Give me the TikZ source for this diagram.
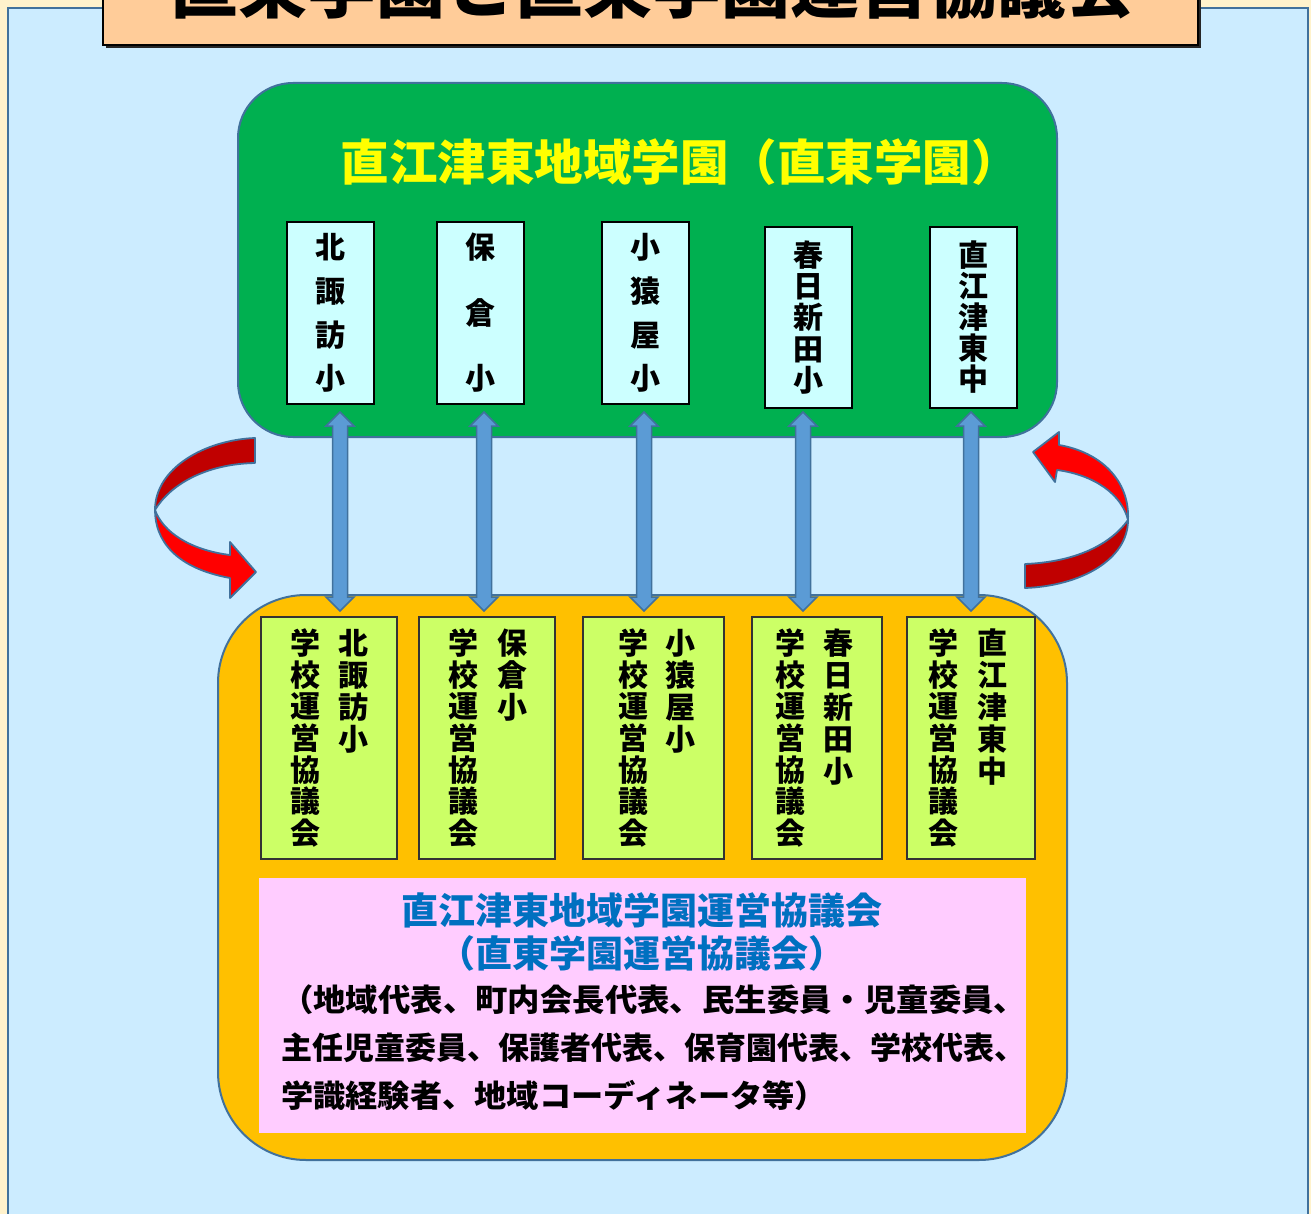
\documentclass[tikz,border=0pt]{standalone}
\usepackage{fontspec}
\setmainfont{Noto Sans CJK JP}
\usetikzlibrary{calc}
\definecolor{cream}{HTML}{FFF2CC}
\definecolor{skyb}{HTML}{CCECFF}
\definecolor{edgeb}{HTML}{41719C}
\definecolor{peach}{HTML}{FFCC99}
\definecolor{grn}{HTML}{00B050}
\definecolor{cyanbox}{HTML}{CCFFFF}
\definecolor{ylw}{HTML}{FFFF00}
\definecolor{orng}{HTML}{FFC000}
\definecolor{lime}{HTML}{CCFF66}
\definecolor{pinkb}{HTML}{FFCCFF}
\definecolor{blu}{HTML}{0070C0}
\definecolor{dred}{HTML}{C00000}
\definecolor{bred}{HTML}{FF0000}
\definecolor{arrb}{HTML}{5B9BD5}
\newcommand\fatarrow[2]{\draw[fatarrow] ($(#1)+(-7.5,14)$) -- ($(#1)+(-14,14)$) -- (#1) -- ($(#1)+(14,14)$) -- ($(#1)+(7.5,14)$) -- ($(#2)+(7.5,-14)$) -- ($(#2)+(14,-14)$) -- (#2) -- ($(#2)+(-14,-14)$) -- ($(#2)+(-7.5,-14)$) -- cycle;}
\begin{document}
\begin{tikzpicture}[x=1pt,y=-1pt,
  schbox/.style={draw=black, line width=1.2pt, fill=cyanbox, inner sep=0pt, align=center, font=\bfseries\fontsize{30}{#1}\selectfont},
  limebox/.style={draw=black!80, line width=1.4pt, fill=lime, inner sep=0pt},
  vcol/.style={inner sep=0pt, align=center, font=\bfseries\fontsize{30}{#1}\selectfont},
  fatarrow/.style={fill=arrb, draw=edgeb, line width=1.5pt, line join=miter},
  redarrow/.style={draw=edgeb, line width=1.8pt, line join=round},
  bigbox/.style={draw=edgeb, line width=2pt},
  pinkline/.style={inner sep=0pt, anchor=west, font=\bfseries\fontsize{31}{31}\selectfont}]
\useasboundingbox (0,0) rectangle (1311,1214);
\clip (0,0) rectangle (1311,1214);
\fill[cream] (0,0) rectangle (1311,1214);
\draw[draw=edgeb, line width=2.5pt, fill=skyb] (8,8) rectangle (1308,1240);
% title
\fill[black!85] (106,-10) rectangle (1201,48);
\draw[black, line width=1.5pt, fill=peach] (103,-10) rectangle (1198,45);
\node[anchor=south, inner sep=0pt, font=\bfseries\fontsize{69}{69}\selectfont] (title) at (652,20) {直東学園と直東学園運営協議会};
% green group
\draw[bigbox, fill=grn, rounded corners=55pt] (238,83) rectangle (1057,437);
\node[inner sep=0pt, text=ylw, font=\bfseries\fontsize{48.5}{48.5}\selectfont] (gtitle) at (680,162) {直江津東地域学園（直東学園）};
\node[schbox=43.7, minimum width=87pt, minimum height=182pt] (s1) at (330.5,313) {北\\諏\\訪\\小};
\node[schbox=65.5, minimum width=87pt, minimum height=182pt] (s2) at (480.5,313) {保\\倉\\小};
\node[schbox=43.7, minimum width=87pt, minimum height=182pt] (s3) at (645.5,313) {小\\猿\\屋\\小};
\node[schbox=31.25, minimum width=87pt, minimum height=181pt] (s4) at (808.5,317.5) {春\\日\\新\\田\\小};
\node[schbox=31, minimum width=87pt, minimum height=181pt] (s5) at (973.5,317.5) {直\\江\\津\\東\\中};
% orange group
\draw[bigbox, fill=orng, rounded corners=88pt] (218,595) rectangle (1067,1160);
\node[limebox, minimum width=136pt, minimum height=242pt] (c1) at (329,738) {};
\node[limebox, minimum width=136pt, minimum height=242pt] (c2) at (487,738) {};
\node[limebox, minimum width=141pt, minimum height=242pt] (c3) at (653.5,738) {};
\node[limebox, minimum width=130pt, minimum height=242pt] (c4) at (817,738) {};
\node[limebox, minimum width=128pt, minimum height=242pt] (c5) at (971,738) {};
\foreach \x/\n in {305/1,463/2,633/3,790/4,943/5}
  \node[vcol=31.7] (k\n) at (\x,738) {学\\校\\運\\営\\協\\議\\会};
\node[vcol=32] (n1) at (353,691) {北\\諏\\訪\\小};
\node[vcol=32] (n2) at (512,675) {保\\倉\\小};
\node[vcol=32] (n3) at (680,691) {小\\猿\\屋\\小};
\node[vcol=32] (n4) at (838,707) {春\\日\\新\\田\\小};
\node[vcol=32] (n5) at (992,707) {直\\江\\津\\東\\中};
% pink
\node[fill=pinkb, inner sep=0pt, minimum width=767pt, minimum height=255pt] (pink) at (642.5,1005.5) {};
\node[inner sep=0pt, text=blu, font=\bfseries\fontsize{37}{37}\selectfont] (p1) at (642,910) {直江津東地域学園運営協議会};
\node[inner sep=0pt, text=blu, font=\bfseries\fontsize{37}{37}\selectfont] (p2) at (642,953) {（直東学園運営協議会）};
\node[pinkline] (p3) at (281,1000) {\scalebox{1.045}[1]{（地域代表、町内会長代表、民生委員・児童委員、}};
\node[pinkline] (p4) at (281,1048) {主任児童委員、保護者代表、保育園代表、学校代表、};
\node[pinkline] (p5) at (281,1095) {\scalebox{1.04}[1]{学識経験者、地域コーディネータ等）}};
% double arrows
\foreach \x/\n in {340/1,484/2,644/3,803/4,971/5}{
  \coordinate (t\n) at (\x,412);
  \coordinate (b\n) at (\x,611);
}
\fatarrow{t1}{b1}
\fatarrow{t2}{b2}
\fatarrow{t3}{b3}
\fatarrow{t4}{b4}
\fatarrow{t5}{b5}
% left curved arrow
\draw[redarrow, fill=dred] (255,438) .. controls (205,440) and (155,468) .. (155,510)
   .. controls (170,485) and (205,464) .. (255,463) -- cycle;
\draw[redarrow, fill=bred] (155,510) .. controls (163,532) and (190,550) .. (230,555)
   -- (230,542) -- (256,572) -- (230,598) -- (230,578)
   .. controls (175,568) and (155,540) .. (155,510) -- cycle;
% right curved arrow
\draw[redarrow, fill=dred] (1025,564) -- (1025,588) .. controls (1080,586) and (1128,560) .. (1128,520)
   .. controls (1110,545) and (1075,562) .. (1025,564) -- cycle;
\draw[redarrow, fill=bred] (1128,520) .. controls (1130,480) and (1100,452) .. (1059,445)
   -- (1059,432) -- (1033,452) -- (1055,482) -- (1057,470)
   .. controls (1095,475) and (1122,495) .. (1128,520) -- cycle;
\end{tikzpicture}
\end{document}
